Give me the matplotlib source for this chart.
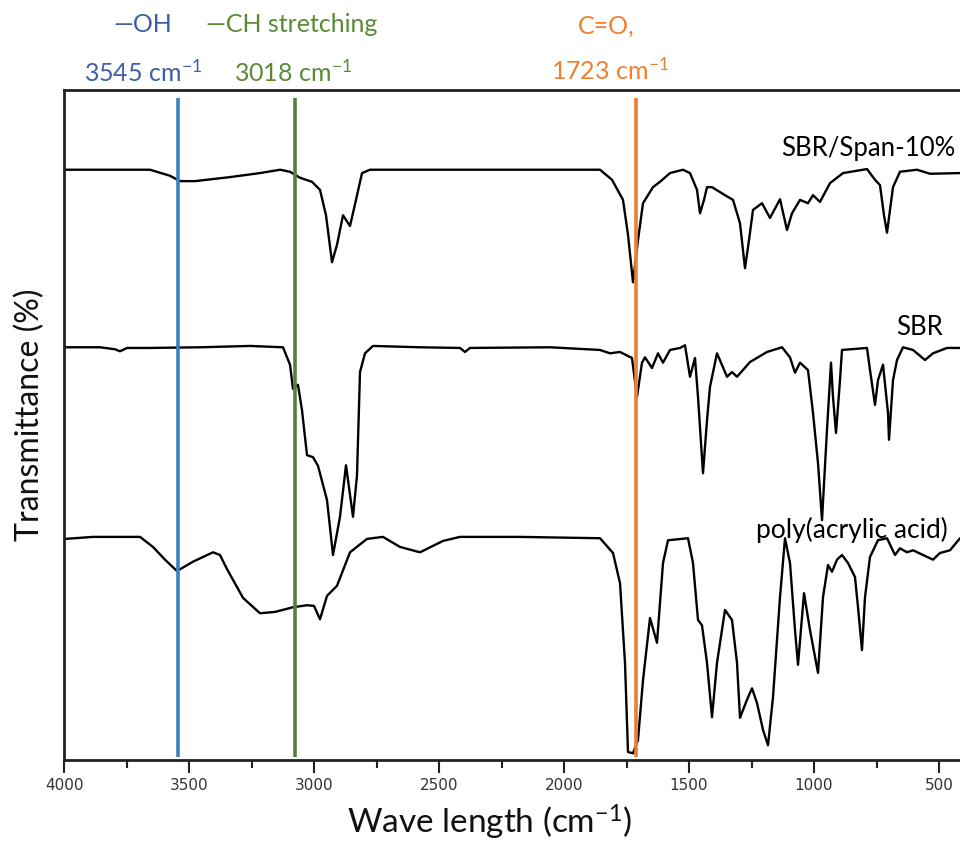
import matplotlib
matplotlib.use("Agg")
import matplotlib.pyplot as plt

plt.rcParams['font.family'] = ['Lato', 'DejaVu Sans']
plt.rcParams['mathtext.fontset'] = 'custom'
plt.rcParams['mathtext.rm'] = 'Lato'
plt.rcParams['mathtext.it'] = 'Lato:italic'

# ---- data: wavenumber (cm-1) and offset transmittance (a.u.) ----
span_wn = [3996, 3856, 3656, 3576, 3536, 3476, 3336, 3216, 3136, 3096, 3056, 3008, 2976, 2952, 2928,
           2908, 2884, 2856, 2832, 2808, 2776, 2456, 2056, 1856, 1808, 1764, 1744, 1724, 1704, 1684,
           1644, 1616, 1576, 1524, 1496, 1468, 1456, 1440, 1428, 1408, 1356, 1324, 1296, 1276, 1260,
           1244, 1208, 1176, 1136, 1108, 1088, 1056, 1024, 1004, 976, 936, 884, 788, 756, 736,
           720, 708, 696, 684, 656, 588, 536, 416]
span_t = [88.1, 88.1, 88.1, 87.2, 86.4, 86.4, 87.0, 87.6, 88.1, 87.8, 86.9, 86.3, 85.1, 81.3, 74.3,
          76.9, 81.3, 79.7, 83.6, 87.6, 88.1, 88.1, 88.1, 88.1, 86.6, 83.6, 78.4, 71.3, 77.6, 83.1,
          85.5, 86.3, 87.6, 88.1, 87.6, 85.1, 81.6, 83.6, 85.5, 85.5, 84.3, 83.6, 80.1, 73.4, 77.6,
          82.1, 83.1, 80.9, 83.7, 79.1, 81.6, 83.6, 83.1, 84.3, 83.3, 86.1, 87.6, 88.2, 86.6, 85.8,
          81.3, 78.7, 82.1, 85.5, 87.8, 88.1, 87.5, 87.6]

sbr_wn = [3996, 3856, 3796, 3776, 3748, 3656, 3456, 3256, 3124, 3096, 3084, 3064, 3048, 3028, 3004,
          2984, 2948, 2924, 2896, 2872, 2844, 2828, 2816, 2796, 2764, 2576, 2416, 2396, 2376, 2056,
          1856, 1816, 1776, 1728, 1708, 1688, 1676, 1648, 1624, 1604, 1576, 1536, 1516, 1496, 1476,
          1464, 1444, 1428, 1416, 1388, 1348, 1328, 1308, 1256, 1188, 1128, 1096, 1076, 1056, 1024,
          1004, 984, 968, 948, 932, 924, 912, 896, 888, 788, 776, 756, 744, 724, 704,
          700, 684, 668, 644, 604, 556, 524, 468, 416]
sbr_t = [61.6, 61.6, 61.3, 61.0, 61.5, 61.5, 61.6, 61.8, 61.6, 59.0, 55.4, 56.0, 52.2, 45.5, 45.2,
         43.9, 38.8, 30.6, 36.3, 44.0, 36.3, 42.5, 57.9, 60.7, 61.8, 61.6, 61.5, 60.9, 61.5, 61.6,
         61.2, 60.7, 60.9, 60.0, 54.2, 59.3, 60.1, 58.5, 60.7, 59.3, 61.2, 61.5, 61.9, 57.2, 60.0,
         54.2, 42.8, 50.7, 55.7, 60.7, 57.2, 57.9, 57.2, 59.4, 60.9, 61.6, 60.1, 57.8, 59.3, 58.2,
         51.8, 44.3, 35.8, 49.3, 59.3, 54.2, 48.8, 56.7, 61.2, 61.5, 58.2, 53.0, 56.7, 59.0, 51.8,
         47.8, 56.7, 59.7, 61.6, 61.2, 59.7, 60.7, 61.5, 61.5]

paa_wn = [3996, 3884, 3696, 3644, 3596, 3548, 3484, 3404, 3376, 3348, 3284, 3216, 3156, 3084, 3028,
          3000, 2976, 2948, 2908, 2856, 2788, 2724, 2656, 2576, 2484, 2416, 2176, 1856, 1804, 1776,
          1756, 1744, 1724, 1704, 1684, 1656, 1628, 1604, 1584, 1504, 1484, 1464, 1448, 1428, 1408,
          1388, 1356, 1328, 1308, 1296, 1268, 1248, 1228, 1204, 1184, 1164, 1136, 1116, 1096, 1076,
          1064, 1040, 1016, 984, 964, 944, 928, 908, 888, 864, 836, 824, 808, 796, 776,
          744, 708, 676, 656, 628, 604, 564, 524, 496, 456, 416]
paa_t = [33.0, 33.3, 33.3, 31.8, 29.9, 28.2, 29.6, 31.0, 30.6, 28.5, 24.2, 21.9, 22.1, 22.8, 23.1,
         23.0, 21.0, 24.5, 26.0, 31.0, 33.0, 33.3, 31.8, 31.0, 32.7, 33.3, 33.3, 33.1, 30.9, 26.4,
         14.5, 1.2, 1.0, 3.0, 11.9, 21.2, 17.5, 29.4, 32.8, 33.1, 29.4, 20.9, 20.1, 14.5, 6.4,
         14.5, 22.4, 20.9, 14.5, 6.3, 9.0, 10.7, 8.5, 4.5, 2.2, 9.4, 24.3, 33.1, 29.4, 19.4,
         14.2, 24.9, 19.4, 13.0, 24.3, 29.1, 28.1, 29.9, 30.6, 29.4, 27.3, 22.8, 16.4, 24.3, 30.3,
         32.8, 33.1, 30.6, 31.6, 31.0, 31.3, 30.6, 29.9, 30.9, 31.3, 33.1]

series_labels = ["SBR/Span-10%", "SBR", "poly(acrylic acid)"]
marker_wn = [3545, 3075, 1712]
marker_colors = ["#3b7fc4", "#548235", "#ed7d31"]
xticks = [4000, 3500, 3000, 2500, 2000, 1500, 1000, 500]

fig = plt.figure(figsize=(9.6, 8.41), dpi=100)
ax = fig.add_axes([64/960, 1-760/841, 1-64/960, 670/841])

for wn, t in [(span_wn, span_t), (sbr_wn, sbr_t), (paa_wn, paa_t)]:
    ax.plot(wn, t, color="black", lw=1.7, solid_joinstyle="round", solid_capstyle="round")

for w, c in zip(marker_wn, marker_colors):
    ax.vlines(w, 0.4, 98.8, color=c, lw=2.6)

ax.set_xlim(4000, 416)
ax.set_ylim(0, 100)
ax.set_yticks([])
ax.set_xticks(xticks)
ax.set_xticks([3750, 3250, 2750, 2250, 1750, 1250, 750], minor=True)
ax.tick_params(axis='x', which='major', direction='out', length=9, width=1.5,
               labelsize=11, colors='#222222', pad=4)
ax.tick_params(axis='x', which='minor', direction='out', length=5.5, width=1.5, colors='#222222')
for lab in ax.get_xticklabels():
    lab.set_family(['DejaVu Sans'])
    lab.set_color('#333333')
for s in ['left', 'top', 'bottom']:
    ax.spines[s].set_linewidth(2)
    ax.spines[s].set_color('#222222')
ax.spines['right'].set_visible(False)

ax.set_ylabel("Transmittance (%)", fontsize=23, color='#111111')
ax.yaxis.label.set_va('center')
ax.yaxis.set_label_coords(-0.038, 0.515)
ax.set_xlabel("Wave length (cm$^{-1}$)", fontsize=24, color='#111111')
ax.xaxis.set_label_coords(0.475, -0.0925)
ax.xaxis.label.set_va('center')

ax.text(782, 91.3, series_labels[0], fontsize=18.5, ha='center', va='center')
ax.text(576, 64.5, series_labels[1], fontsize=18.5, ha='center', va='center')
ax.text(848, 34.3, series_labels[2], fontsize=19, ha='center', va='center')

def ftext(px, py, s, c, **kw):
    fig.text(px/960, 1-py/841, s, color=c, fontsize=18, ha='center', va='center', **kw)

ftext(143, 24, "\u2014OH", "#3d5fa5")
ftext(292, 24, "\u2014CH stretching", "#5b8a35")
ftext(143, 72, "3545 cm$^{-1}$", "#3d5fa5")
ftext(293, 72, "3018 cm$^{-1}$", "#5b8a35")
ftext(606, 26, "C=O,", "#f08030")
ftext(610, 70, "1723 cm$^{-1}$", "#f08030")

fig.savefig("out.png", dpi=100)
